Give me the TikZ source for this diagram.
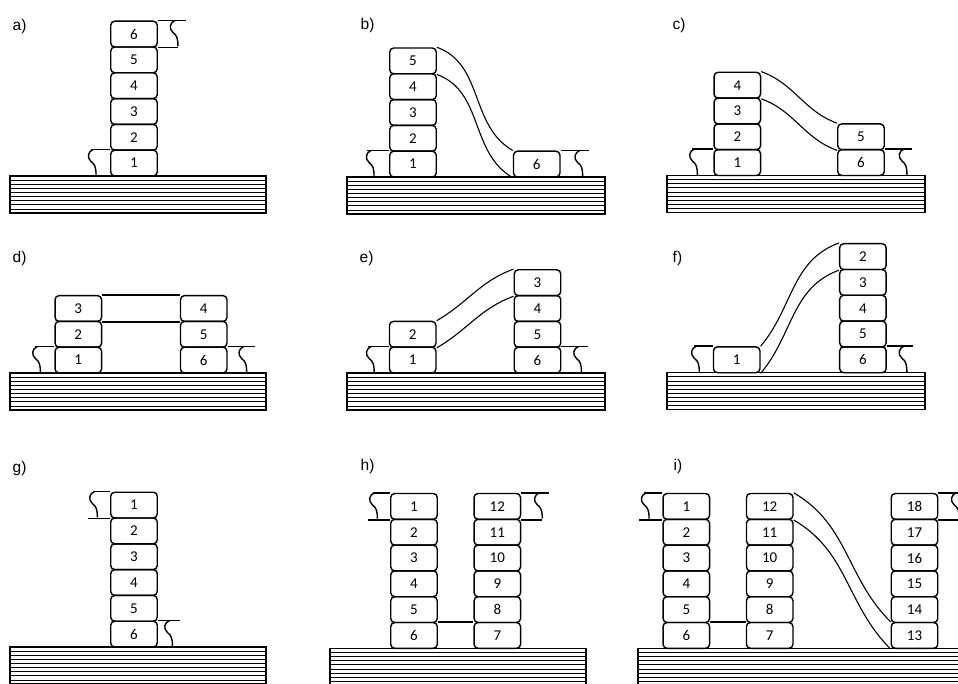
\documentclass[tikz,border=0pt]{standalone}
\usepackage{fontspec}
\usepackage{tikz}
\newfontfamily\numfam{Carlito}
\newfontfamily\lblfam{Liberation Sans}

\begin{document}
\begin{tikzpicture}[x=1pt,y=-1pt,line width=1.4pt,
  blk/.style={draw, rounded corners=4pt, minimum width=46.5pt, minimum height=25.8pt,
    inner sep=0pt, font=\numfam\fontsize{15}{17}\selectfont},
  lbl/.style={anchor=west, inner sep=0pt, font=\lblfam\fontsize{15.5}{18}\selectfont},
  film/.style={line width=1.1pt},
  tear/.pic={\draw (0,0) .. controls (-5,2) and (-6.5,8) .. (-2,12)
                 .. controls (2,15) and (3,18) .. (3,25.8);}]
  \path[use as bounding box, clip] (0,0) rectangle (958,684);

  % substrates
  \foreach \xl/\xr/\yt in {10/266/176, 347/605/177, 667/925/175.5,
                           10/266/373, 347/605/373, 667/925/372.7,
                           10/266/647, 330/586/648.3, 638/975/648.3} {
    \draw (\xl,\yt) rectangle (\xr,\yt+37);
    \foreach \k in {1,...,8}
      \draw[line width=0.7pt] (\xl,\yt+4.11*\k) -- (\xr,\yt+4.11*\k);
  }

  % a)
  \node[lbl] (la) at (12,26.5) {a)};
  \foreach \i in {1,...,6}
    \node[blk] (a\i) at (134,{163.1-25.8*(\i-1)}) {\i};
  \draw (a1.north west) -- ++(-19,0);
  \pic at ([xshift=-17pt]a1.north west) {tear};
  \draw (a6.north east) -- ++(28,0);
  \draw (a6.south east) -- ++(20,0);
  \pic at ([xshift=17pt]a6.north east) {tear};

  % b)
  \node[lbl] (lb) at (360,25) {b)};
  \foreach \i in {1,...,5}
    \node[blk] (b\i) at (413,{164.1-25.8*(\i-1)}) {\i};
  \node[blk] (b6) at (536.7,164.1) {6};
  \draw[film] (b5.north east) to[out=-20,in=150] (b6.north west);
  \draw[film] (b5.south east) to[out=-20,in=150] (b6.south west);
  \draw (b1.north west) -- ++(-22,0);
  \pic at ([xshift=-18pt]b1.north west) {tear};
  \draw (b6.north east) -- ++(28,0);
  \pic at ([xshift=19pt]b6.north east) {tear};

  % c)
  \node[lbl] (lc) at (672,25) {c)};
  \foreach \i in {1,...,4}
    \node[blk] (c\i) at (737.3,{162.6-25.8*(\i-1)}) {\i};
  \node[blk] (c6) at (861,162.6) {6};
  \node[blk] (c5) at (861,136.8) {5};
  \draw[film] (c4.north east) to[out=-20,in=160] (c5.north west);
  \draw[film] (c4.south east) to[out=-20,in=160] (c5.south west);
  \draw (c1.north west) -- ++(-21,0);
  \pic at ([xshift=-19pt]c1.north west) {tear};
  \draw (c6.north east) -- ++(27.4,0);
  \pic at ([xshift=19pt]c6.north east) {tear};

  % d)
  \node[lbl] (ld) at (12,258) {d)};
  \foreach \i in {1,2,3}
    \node[blk] (d\i) at (78.3,{360.1-25.8*(\i-1)}) {\i};
  \foreach \i in {4,5,6}
    \node[blk] (d\i) at (203.7,{360.1-25.8*(6-\i)}) {\i};
  \draw (d3.north east) -- (d4.north west);
  \draw (d3.south east) -- (d4.south west);
  \draw (d1.north west) -- ++(-19,0);
  \pic at ([xshift=-17pt]d1.north west) {tear};
  \draw (d6.north east) -- ++(27,0);
  \pic at ([xshift=16pt]d6.north east) {tear};

  % e)
  \node[lbl] (le) at (359,258) {e)};
  \foreach \i in {1,2}
    \node[blk] (e\i) at (412.7,{360.1-25.8*(\i-1)}) {\i};
  \foreach \i in {3,...,6}
    \node[blk] (e\i) at (537.5,{360.1-25.8*(6-\i)}) {\i};
  \draw[film] (e2.north east) to[out=30,in=200] (e3.north west);
  \draw[film] (e2.south east) to[out=30,in=200] (e3.south west);
  \draw (e1.north west) -- ++(-21,0);
  \pic at ([xshift=-17.6pt]e1.north west) {tear};
  \draw (e6.north east) -- ++(27,0);
  \pic at ([xshift=17pt]e6.north east) {tear};

  % f)
  \node[lbl] (lf) at (672,258) {f)};
  \node[blk] (f1) at (736.7,359.8) {1};
  \foreach \i in {2,...,6}
    \node[blk] (f\i) at (862.9,{359.8-25.8*(6-\i)}) {\i};
  \draw[film] (f1.north east) to[out=50,in=200] (f2.north west);
  \draw[film] (f1.south east) to[out=50,in=200] (f2.south west);
  \draw (f1.north west) -- ++(-18.3,0);
  \pic at ([xshift=-16.5pt]f1.north west) {tear};
  \draw (f6.north east) -- ++(26,0);
  \pic at ([xshift=17pt]f6.north east) {tear};

  % g)
  \node[lbl] (lg) at (12,468.5) {g)};
  \foreach \i in {1,...,6}
    \node[blk] (g\i) at (134,{634.1-25.8*(6-\i)}) {\i};
  \draw (g1.north west) -- ++(-17.4,0);
  \draw (g1.south west) -- ++(-22.4,0);
  \pic at ([xshift=-15.7pt]g1.north west) {tear};
  \draw (g6.north east) -- ++(22,0);
  \pic at ([xshift=11.5pt]g6.north east) {tear};

  % h)
  \node[lbl] (lh) at (360,466.5) {h)};
  \foreach \i in {1,...,6}
    \node[blk] (h\i) at (414,{635.4-25.8*(6-\i)}) {\i};
  \foreach \i in {7,...,12}
    \node[blk] (h\i) at (497.3,{635.4-25.8*(\i-7)}) {\i};
  \draw (h6.north east) -- (h7.north west);
  \draw (h1.north west) -- ++(-17.4,0);
  \draw (h1.south west) -- ++(-22.4,0);
  \pic at ([xshift=-15.7pt]h1.north west) {tear};
  \draw (h12.north east) -- ++(27.6,0);
  \draw (h12.south east) -- ++(21,0);
  \pic at ([xshift=18pt]h12.north east) {tear};

  % i)
  \node[lbl] (li) at (673,466.5) {i)};
  \foreach \i in {1,...,6}
    \node[blk] (i\i) at (686.3,{635.4-25.8*(6-\i)}) {\i};
  \foreach \i in {7,...,12}
    \node[blk] (i\i) at (769.7,{635.4-25.8*(\i-7)}) {\i};
  \foreach \i in {13,...,18}
    \node[blk] (i\i) at (914.5,{635.4-25.8*(\i-13)}) {\i};
  \draw (i6.north east) -- (i7.north west);
  \draw[film] (i12.north east) to[out=-30,in=135] (i13.north west);
  \draw[film] (i12.south east) to[out=-30,in=135] (i13.south west);
  \draw (i1.north west) -- ++(-18.3,0);
  \draw (i1.south west) -- ++(-23.3,0);
  \pic at ([xshift=-16.3pt]i1.north west) {tear};
  \draw (i18.north east) -- ++(30,0);
  \draw (i18.south east) -- ++(30,0);
  \pic at ([xshift=17.7pt]i18.north east) {tear};
\end{tikzpicture}
\end{document}
